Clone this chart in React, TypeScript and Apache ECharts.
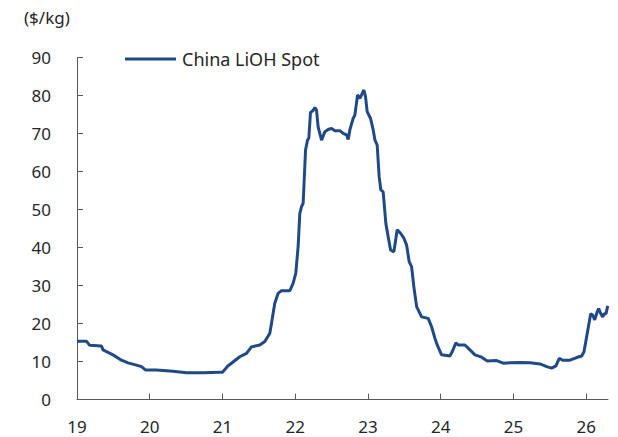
import React, { useEffect, useRef } from "react";
import * as echarts from "echarts";

const dates: number[] = [
  19.0, 19.129, 19.175, 19.336, 19.358, 19.495, 19.611, 19.702, 19.817, 19.886,
  19.945, 20.092, 20.183, 20.32, 20.505, 20.733, 20.963, 21.0, 21.07, 21.238,
  21.33, 21.399, 21.513, 21.582, 21.651, 21.674, 21.719, 21.765, 21.811, 21.926,
  21.971, 22.008, 22.04, 22.063, 22.087, 22.109, 22.142, 22.169, 22.187, 22.21,
  22.246, 22.27, 22.293, 22.315, 22.362, 22.407, 22.453, 22.499, 22.544, 22.613,
  22.659, 22.706, 22.728, 22.751, 22.796, 22.82, 22.857, 22.889, 22.912, 22.944,
  22.967, 22.989, 23.036, 23.072, 23.095, 23.127, 23.154, 23.177, 23.209, 23.246,
  23.278, 23.311, 23.356, 23.402, 23.448, 23.494, 23.531, 23.567, 23.6, 23.631,
  23.669, 23.737, 23.828, 23.875, 23.92, 23.952, 24.012, 24.126, 24.158, 24.209,
  24.241, 24.333, 24.402, 24.471, 24.563, 24.64, 24.769, 24.86, 24.952, 25.09,
  25.227, 25.365, 25.457, 25.525, 25.584, 25.63, 25.676, 25.777, 25.869, 25.938,
  25.97, 26.007, 26.043, 26.062, 26.089, 26.117, 26.153, 26.172, 26.199, 26.227,
  26.249, 26.272, 26.296,
];

const prices: number[] = [
  15.4, 15.4, 14.3, 14.1, 13.1, 11.8, 10.4, 9.7, 9.1, 8.7,
  7.8, 7.8, 7.7, 7.5, 7.1, 7.1, 7.2, 7.2, 8.8, 11.3,
  12.2, 13.9, 14.4, 15.3, 17.5, 20.1, 25.4, 28.0, 28.7, 28.7,
  30.6, 33.3, 40.3, 49.0, 50.8, 51.7, 65.7, 68.3, 68.8, 75.6,
  76.1, 76.9, 76.2, 71.8, 68.3, 70.5, 71.1, 71.4, 70.8, 70.8,
  70.1, 69.7, 68.5, 71.0, 74.0, 74.9, 80.2, 79.3, 80.2, 81.5,
  79.7, 75.8, 74.0, 71.0, 68.4, 67.0, 58.7, 55.2, 54.7, 46.4,
  42.9, 39.4, 38.9, 44.7, 43.8, 42.5, 40.7, 36.3, 35.0, 29.7,
  24.5, 21.8, 21.4, 19.2, 16.2, 14.4, 11.8, 11.5, 12.6, 15.0,
  14.4, 14.4, 13.1, 11.8, 11.2, 10.2, 10.3, 9.6, 9.7, 9.8,
  9.7, 9.4, 8.7, 8.3, 8.9, 10.9, 10.4, 10.4, 11.1, 11.5,
  12.6, 16.6, 20.5, 22.6, 22.3, 21.0, 23.2, 24.0, 22.7, 21.8,
  22.6, 22.6, 24.7,
];

const xTicks: number[] = [19, 20, 21, 22, 23, 24, 25, 26];
const seriesName = "China LiOH Spot";
const unitLabel = "($/kg)";

const FONT = "'Noto Sans', 'Open Sans', sans-serif";
const TEXT = "#262626";
const AXIS = "#595959";
const LINE = "#1f4a87";

export default function App() {
  const ref = useRef<HTMLDivElement>(null);
  useEffect(() => {
    document.body.style.margin = "0";
    if (!ref.current) return;
    const chart = echarts.init(ref.current, undefined, { renderer: "svg" });
    chart.setOption({
      animation: false,
      backgroundColor: "#ffffff",
      textStyle: { fontFamily: FONT },
      grid: { left: 77, right: 10, top: 57.7, bottom: 37.3, containLabel: false },
      legend: {
        left: 120,
        top: 45,
        itemWidth: 51,
        itemHeight: 3,
        data: [{ name: seriesName, icon: "rect" }],
        textStyle: { fontSize: 18, color: TEXT, fontFamily: FONT, padding: [0, 0, 0, 1] },
      },
      graphic: [
        {
          type: "text",
          left: 24,
          top: 9,
          style: { text: unitLabel, fontSize: 17, fill: TEXT, fontFamily: FONT },
        },
      ],
      xAxis: {
        type: "value",
        min: 19,
        max: 26.3,
        interval: 1,
        splitLine: { show: false },
        axisLine: { show: true, lineStyle: { color: AXIS, width: 1 } },
        axisTick: {
          show: true,
          inside: true,
          length: 6,
          customValues: xTicks,
          lineStyle: { color: AXIS },
        },
        axisLabel: {
          customValues: xTicks,
          margin: 18,
          fontSize: 17,
          color: TEXT,
          fontFamily: FONT,
          formatter: (v: number) => String(v),
        },
      },
      yAxis: {
        type: "value",
        min: 0,
        max: 90,
        interval: 10,
        splitLine: { show: false },
        axisLine: { show: true, lineStyle: { color: AXIS, width: 1 } },
        axisTick: { show: true, inside: true, length: 6, lineStyle: { color: AXIS } },
        axisLabel: { margin: 26, fontSize: 17, color: TEXT, fontFamily: FONT },
      },
      series: [
        {
          name: seriesName,
          type: "line",
          symbol: "none",
          data: dates.map((d, i) => [d, prices[i]]),
          lineStyle: { color: LINE, width: 3 },
          itemStyle: { color: LINE },
        },
      ],
    });
    return () => chart.dispose();
  }, []);
  return <div ref={ref} style={{ width: 618, height: 437 }} />;
}
